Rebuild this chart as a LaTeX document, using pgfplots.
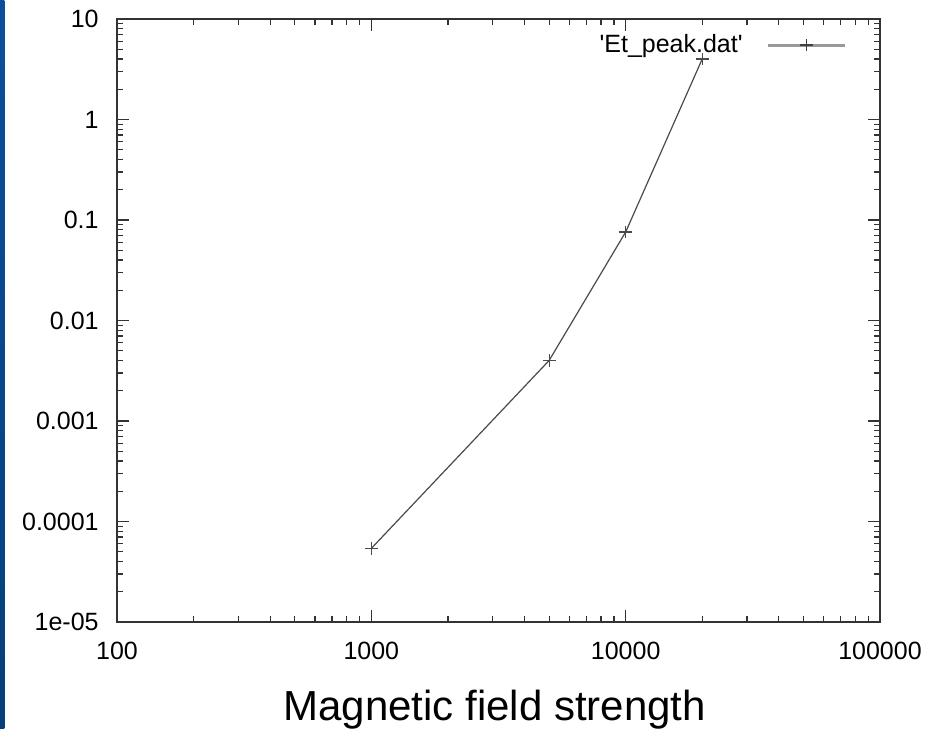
\documentclass[border=0pt]{standalone}
\usepackage{fontspec}
\setmainfont{Liberation Sans}
\usepackage{pgfplots}
\pgfplotsset{compat=1.18}
\definecolor{slideblue}{HTML}{0B4F9C}
\definecolor{slidebluedark}{HTML}{063F7A}
\definecolor{curvegray}{HTML}{4A4A4A}
\definecolor{axisgray}{HTML}{333333}

\begin{document}
\begin{tikzpicture}
% page frame: 944x729 px at 0.5pt per px
\path[use as bounding box, fill=white] (0,0) rectangle (472pt,364.5pt);
\shade[top color=slideblue, bottom color=slidebluedark] (0,0) rectangle (2.2pt,364.5pt);
\begin{axis}[
    at={(58.5pt,53.5pt)}, anchor=south west,
    width=381.5pt, height=301.5pt,
    scale only axis,
    xmode=log, ymode=log,
    xmin=100, xmax=100000,
    ymin=1e-5, ymax=10,
    xtick={100,1000,10000,100000},
    xticklabels={100,1000,10000,100000},
    ytick={1e-5,1e-4,1e-3,1e-2,1e-1,1,10},
    yticklabels={1e-05,0.0001,0.001,0.01,0.1,1,10},
    tick align=inside,
    xtick pos=both, ytick pos=both,
    major tick length=6pt,
    minor tick length=3pt,
    every tick/.style={axisgray, line width=0.6pt},
    axis line style={axisgray, line width=0.9pt},
    ticklabel style={font=\fontsize{12.5}{14}\selectfont, inner sep=0pt},
    yticklabel style={xshift=-9pt},
    xticklabel style={yshift=-10pt},
    xlabel={Magnetic field strength},
    xlabel style={font=\fontsize{21}{24}\selectfont, at={(axis description cs:0.495,0)}, anchor=base, yshift=-49pt},
    legend plot pos=right,
    legend style={at={(1,1)}, anchor=east, xshift=-16.5pt, yshift=-13pt,
        draw=none, fill=none, inner sep=0pt, column sep=10pt,
        font=\fontsize{12.5}{14}\selectfont},
    legend image code/.code={
        \draw[black!40, line width=1.5pt] (0pt,0pt) -- (38.5pt,0pt);
        \draw[black!75, line width=0.6pt] (16pt,0pt) -- (22.5pt,0pt) (19.25pt,-3.2pt) -- (19.25pt,3.2pt);
    },
]
\addplot[curvegray, line width=0.6pt, mark=+, mark size=3.2pt, mark options={solid}]
    coordinates {(1000,5.4e-5) (5000,0.004) (10000,0.076) (20000,4.0)};
\addlegendentry{\textquotesingle Et\_peak.dat\textquotesingle}
\end{axis}
\end{tikzpicture}
\end{document}
